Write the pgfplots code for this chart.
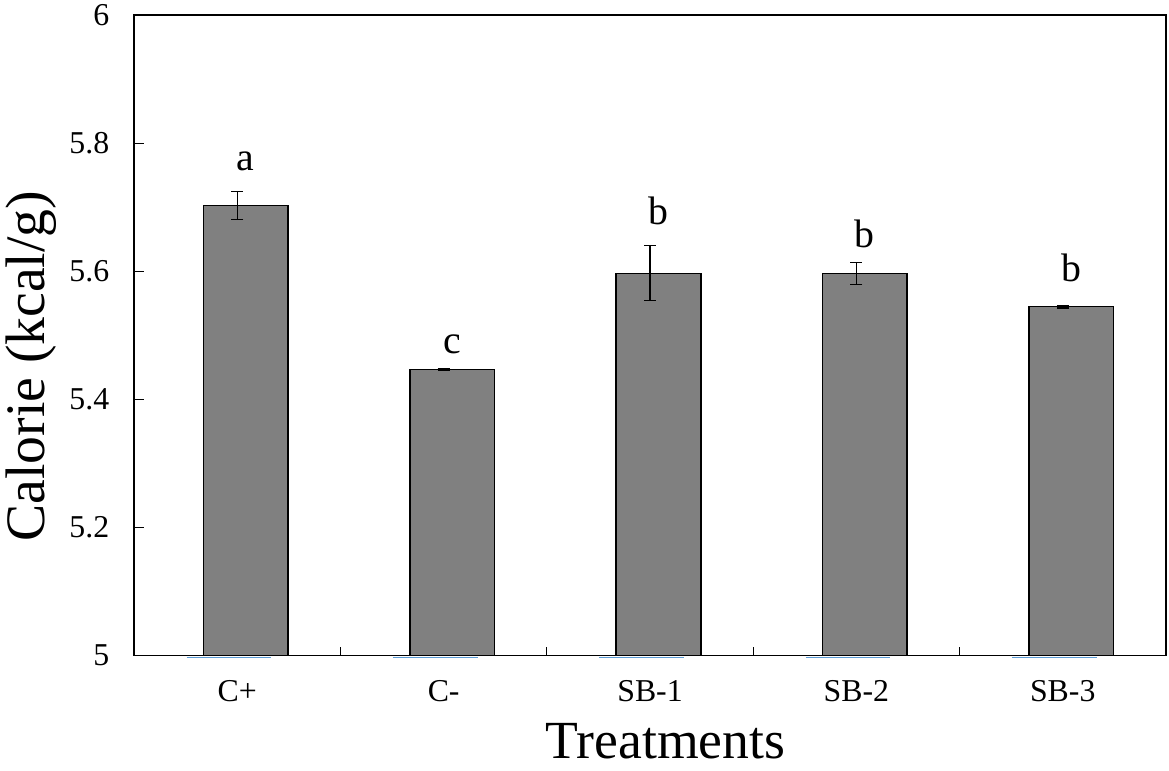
\documentclass[border=0pt]{standalone}
\usepackage{pgfplots}
\pgfplotsset{compat=1.18}
\usepackage{fontspec}
\setmainfont{Liberation Serif}
\definecolor{bargray}{RGB}{128,128,128}
\definecolor{zeroblue}{RGB}{91,155,213}

\begin{document}
\begin{tikzpicture}
\begin{axis}[
  name=main,
  width=519pt, height=322pt, scale only axis,
  xmin=-0.5, xmax=4.5, ymin=5, ymax=6,
  ytick={5,5.2,5.4,5.6,5.8,6},
  xtick={0,1,2,3,4},
  xticklabels={C+,C-,SB-1,SB-2,SB-3},
  minor xtick={0.5,1.5,2.5,3.5},
  tick align=inside,
  xtick pos=bottom, ytick pos=left,
  major tick length=5pt, minor tick length=4.5pt,
  major x tick style={draw=none},
  tick style={black, line width=0.6pt},
  axis line style={black, line width=0.9pt},
  /pgf/number format/assume math mode=true,
  yticklabel style={font=\fontsize{16}{18}\selectfont, xshift=-9pt},
  xticklabel style={font=\fontsize{16}{18}\selectfont, yshift=-9pt},
  ylabel={Calorie (kcal/g)},
  xlabel={Treatments},
  ylabel style={font=\fontsize{28}{32}\selectfont, at={(axis description cs:-0.1002,0.452)}, anchor=center, inner sep=0pt},
  xlabel style={font=\fontsize{27}{32}\selectfont, at={(axis description cs:0.515,-0.1615)}, anchor=base, inner sep=0pt},
]
\addplot[ybar, bar width=0.41, bar shift=0.041, fill=bargray, draw=black, line width=0.8pt,
  error bars/.cd, y dir=both, y explicit,
  error bar style={black, line width=0.6pt},
  error mark options={rotate=90, mark size=3pt, line width=0.6pt, black}]
  coordinates {(0,5.703) +- (0,0.022) (1,5.447) +- (0,0.0012) (2,5.597) +- (0,0.043) (3,5.597) +- (0,0.0175) (4,5.545) +- (0,0.002)};
\node[font=\fontsize{20}{24}\selectfont, anchor=base] at (axis cs:0.041,5.758) {a};
\node[font=\fontsize{20}{24}\selectfont, anchor=base] at (axis cs:1.041,5.4725) {c};
\node[font=\fontsize{20}{24}\selectfont, anchor=base] at (axis cs:2.041,5.674) {b};
\node[font=\fontsize{20}{24}\selectfont, anchor=base] at (axis cs:3.041,5.638) {b};
\node[font=\fontsize{20}{24}\selectfont, anchor=base] at (axis cs:4.041,5.585) {b};
\coordinate (bbsw) at (axis description cs:-0.1300,-0.1800);
\coordinate (bbne) at (axis description cs:1.0030,1.0240);
\end{axis}
\begin{axis}[
  width=519pt, height=322pt, scale only axis,
  xmin=-0.5, xmax=4.5, ymin=5, ymax=6,
  hide axis, clip=false,
]
\addplot[zeroblue, line width=0.6pt, no marks, unbounded coords=jump]
  coordinates {(-0.246,4.9975) (0.164,4.9975) (0.5,nan) (0.754,4.9975) (1.164,4.9975) (1.5,nan)
  (1.754,4.9975) (2.164,4.9975) (2.5,nan) (2.754,4.9975) (3.164,4.9975) (3.5,nan) (3.754,4.9975) (4.164,4.9975)};
\draw[black, line width=1.4pt] (axis description cs:1,0) -- (axis description cs:1,1);
\end{axis}
\pgfresetboundingbox
\path[use as bounding box] (bbsw) rectangle (bbne);
\end{tikzpicture}
\end{document}
